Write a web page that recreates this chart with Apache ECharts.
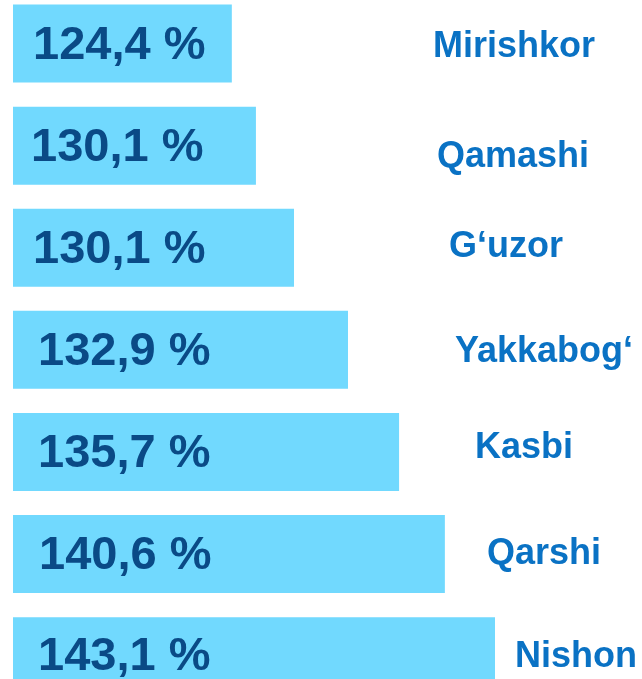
<!DOCTYPE html>
<html>
<head>
<meta charset="utf-8">
<script src="https://cdn.jsdelivr.net/npm/echarts@6/dist/echarts.min.js"></script>
<style>html,body{margin:0;padding:0;background:#fff}#c{width:642px;height:679px}</style>
</head>
<body>
<div id="c"></div>
<script>
// Districts (top to bottom)
const categories = ['Mirishkor', 'Qamashi', 'G\u2018uzor', 'Yakkabog\u2018', 'Kasbi', 'Qarshi', 'Nishon'];
// Percent values shown in the bars
const percents = [124.4, 130.1, 130.1, 132.9, 135.7, 140.6, 143.1];
// Drawn bar lengths (relative, longest = 100)
const barLengths = [45.4, 50.4, 58.3, 69.5, 80.1, 89.6, 100];

// text nudges (style only), px
const nameOffset = [[-62, 3.5], [-58, 11], [-46, -1], [-40, 2], [-20, -4], [-8, 0], [20, 1]];
const pctOffset = [[-2, 2], [-4, 2], [-2, 2], [3, 2], [3, 2], [4, 2], [3, 1]];

const chart = echarts.init(document.getElementById('c'), null, {renderer: 'canvas'});
const fmt = v => v.toFixed(1).replace('.', ',') + ' %';
const FONT = 'Liberation Sans, Arial, sans-serif';

chart.setOption({
  animation: false,
  grid: {left: 13, width: 482, top: -7.5, height: 714.7, containLabel: false, outerBoundsMode: 'none'},
  xAxis: {type: 'value', min: 0, max: 100, show: false},
  yAxis: {
    type: 'category',
    inverse: true,
    data: categories,
    axisLine: {show: false},
    axisTick: {show: false},
    axisLabel: {show: false},
    splitLine: {show: false}
  },
  series: [{
    type: 'bar',
    data: barLengths.map((v, i) => ({value: v, label: {offset: pctOffset[i]}})),
    barWidth: 78,
    itemStyle: {color: '#71d9fe'},
    label: {
      show: true,
      position: 'insideLeft',
      distance: 22,
      formatter: p => fmt(percents[p.dataIndex]),
      color: '#0a4a86',
      fontFamily: FONT,
      fontWeight: 'bold',
      fontSize: 47
    }
  }, {
    type: 'scatter',
    symbolSize: 0,
    silent: true,
    itemStyle: {opacity: 1},
    data: categories.map((c, i) => ({value: [100, c], label: {offset: nameOffset[i]}})),
    label: {
      show: true,
      position: 'right',
      distance: 0,
      align: 'left',
      verticalAlign: 'middle',
      formatter: p => p.value[1],
      color: '#0a72c4',
      opacity: 1,
      fontFamily: FONT,
      fontWeight: 'bold',
      fontSize: 36
    }
  }]
});
</script>
</body>
</html>
